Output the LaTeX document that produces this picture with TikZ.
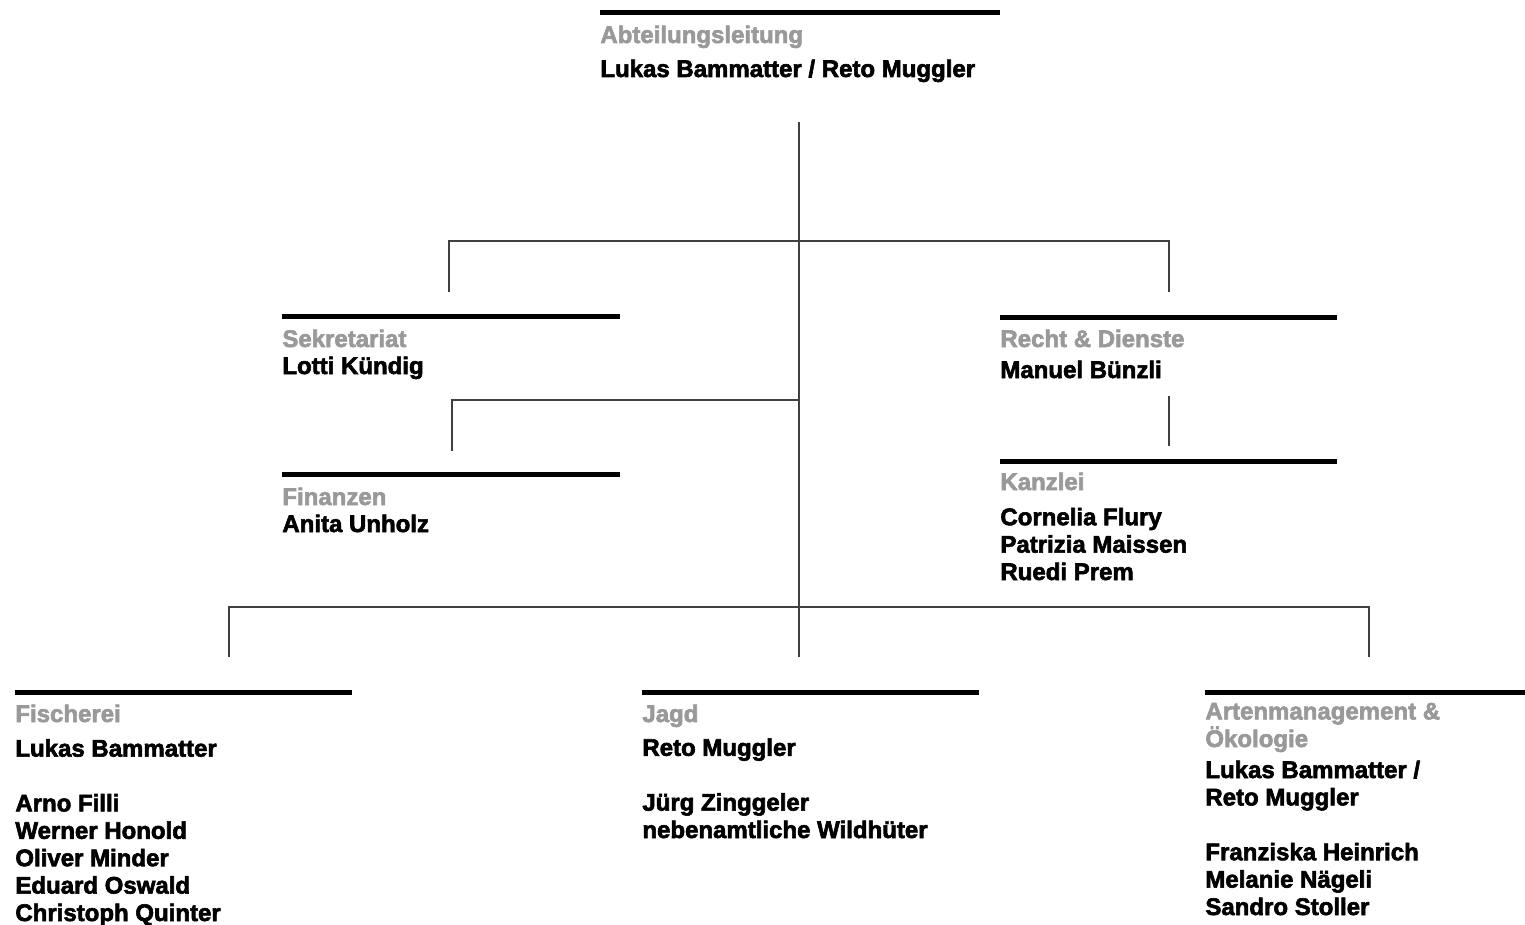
\documentclass[tikz,border=0pt]{standalone}
\usepackage{fontspec}
\setmainfont{Liberation Sans}[BoldFeatures={FakeBold=2.5}]
\usetikzlibrary{positioning, calc}

\tikzset{
  bar/.style={line width=2.5pt, line cap=butt},
  link/.style={line width=1pt, draw=black!75},
  % multi-line nodes sit on the baseline of their last line
  unittitle/.style={anchor=base west, inner sep=0pt, align=left, text=black!40,
    font=\fontsize{12}{12.5}\selectfont\bfseries},
  members/.style={anchor=base west, inner sep=0pt, align=left,
    font=\fontsize{12}{13.7}\selectfont\bfseries}
}

\begin{document}
\begin{tikzpicture}[x=0.5pt, y=-0.5pt]
\useasboundingbox (0,0) rectangle (1525,925);

% Leitung
\draw[bar] (600,13) -- (1000,13);
\node[unittitle] (leitT) at (600,43) {Abteilungsleitung};
\node[members] (leit) at (600,77) {Lukas Bammatter / Reto Muggler};

% Stab links
\draw[bar] (282,316) -- (620,316);
\node[unittitle] (sekT) at (282,347) {Sekretariat};
\node[members] (sek) at (282,374) {Lotti Kündig};

\draw[bar] (282,474) -- (620,474);
\node[unittitle] (finT) at (282,505) {Finanzen};
\node[members] (fin) at (282,532) {Anita Unholz};

% Stab rechts
\draw[bar] (1000,317) -- (1337,317);
\node[unittitle] (rdT) at (1000,347) {Recht \& Dienste};
\node[members] (rd) at (1000,378) {Manuel Bünzli};

\draw[bar] (1000,461) -- (1337,461);
\node[unittitle] (kzT) at (1000,490) {Kanzlei};
\node[members] (kz) at (1000,580) {Cornelia Flury\\Patrizia Maissen\\Ruedi Prem};

% Linie
\draw[bar] (15,692) -- (352,692);
\node[unittitle] (fiT) at (15,722) {Fischerei};
\node[members] (fi) at (15,921) {Lukas Bammatter\\[13.7pt]Arno Filli\\Werner Honold\\Oliver Minder\\Eduard Oswald\\Christoph Quinter};

\draw[bar] (642,692) -- (979,692);
\node[unittitle] (jgT) at (642,722) {Jagd};
\node[members] (jg) at (642,838) {Reto Muggler\\[13.7pt]Jürg Zinggeler\\nebenamtliche Wildhüter};

\draw[bar] (1205,692) -- (1525,692);
\node[unittitle] (amT) at (1205,747) {Artenmanagement \&\\Ökologie};
\node[members] (am) at (1205,915) {Lukas Bammatter /\\Reto Muggler\\[13.7pt]Franziska Heinrich\\Melanie Nägeli\\Sandro Stoller};

% Verbindungen
\coordinate (stem) at (799,122);
\coordinate (lvlA) at (799,241);
\coordinate (lvlB) at (799,400);
\coordinate (lvlC) at (799,607);
\coordinate (sekIn) at (449,292);
\coordinate (rdIn) at (1169,292);
\coordinate (finIn) at (452,451);
\coordinate (rdOut) at (1169,396);
\coordinate (kzIn) at (1169,446);
\coordinate (fiIn) at (229,657);
\coordinate (jgIn) at (799,657);
\coordinate (amIn) at (1369,657);

\draw[link] (stem) -- (jgIn);
\draw[link] (sekIn) |- (lvlA) -| (rdIn);
\draw[link] (finIn) |- (lvlB);
\draw[link] (rdOut) -- (kzIn);
\draw[link] (fiIn) |- (lvlC) -| (amIn);
\end{tikzpicture}
\end{document}
